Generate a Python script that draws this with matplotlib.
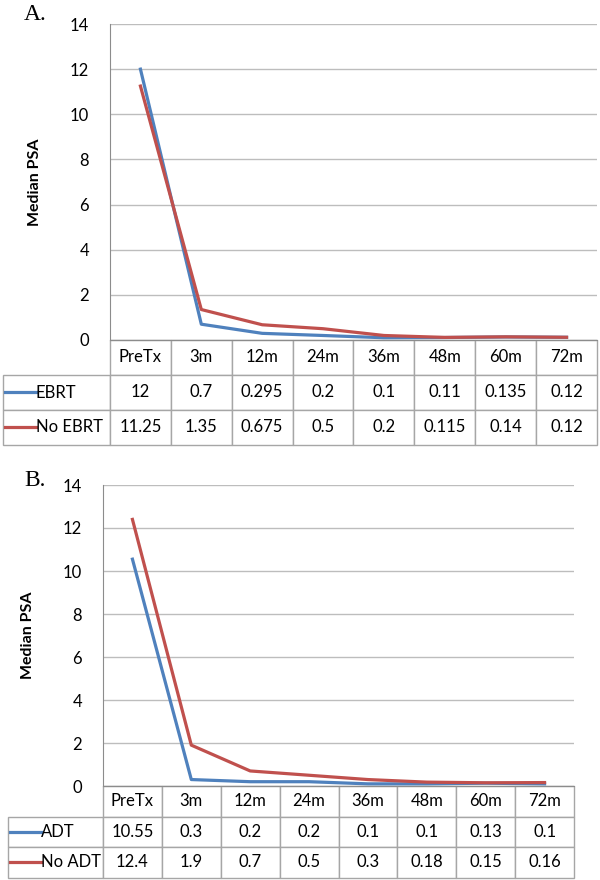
import matplotlib
matplotlib.use('Agg')
import matplotlib.pyplot as plt

plt.rcParams['font.family'] = ['Lato', 'DejaVu Sans']

timepoints = ['PreTx', '3m', '12m', '24m', '36m', '48m', '60m', '72m']

# panel A
ebrt = [12, 0.7, 0.295, 0.2, 0.1, 0.11, 0.135, 0.12]
no_ebrt = [11.25, 1.35, 0.675, 0.5, 0.2, 0.115, 0.14, 0.12]
ebrt_txt = ['12', '0.7', '0.295', '0.2', '0.1', '0.11', '0.135', '0.12']
no_ebrt_txt = ['11.25', '1.35', '0.675', '0.5', '0.2', '0.115', '0.14', '0.12']

# panel B
adt = [10.55, 0.3, 0.2, 0.2, 0.1, 0.1, 0.13, 0.1]
no_adt = [12.4, 1.9, 0.7, 0.5, 0.3, 0.18, 0.15, 0.16]
adt_txt = ['10.55', '0.3', '0.2', '0.2', '0.1', '0.1', '0.13', '0.1']
no_adt_txt = ['12.4', '1.9', '0.7', '0.5', '0.3', '0.18', '0.15', '0.16']

yticks = [0, 2, 4, 6, 8, 10, 12, 14]

BLUE = '#4F81BD'
RED = '#C0504D'
GRID = '#BDBDBD'
EDGE = '#A6A6A6'
FS = 12

W, H = 600, 880
fig = plt.figure(figsize=(6, 8.8), dpi=100)


def panel(px_left, px_right, px_top, px_bottom, tbl_left, row_h, names, series, texts, letter, letter_y):
    ax = fig.add_axes([px_left / W, (H - px_bottom) / H,
                       (px_right - px_left) / W, (px_bottom - px_top) / H])
    wpx = px_right - px_left
    hpx = px_bottom - px_top
    x = list(range(len(timepoints)))
    for vals, c in zip(series, [BLUE, RED]):
        ax.plot(x, vals, color=c, lw=2.3, solid_joinstyle='round')
    ax.set_xlim(-0.5, len(timepoints) - 0.5)
    ax.set_ylim(0, 14)
    ax.set_yticks(yticks)
    ax.set_xticks([])
    ax.yaxis.grid(True, color=GRID, lw=1)
    ax.set_axisbelow(True)
    for s in ['top', 'right']:
        ax.spines[s].set_visible(False)
    ax.spines['left'].set_color('#8C8C8C')
    ax.spines['bottom'].set_color('#8C8C8C')
    ax.tick_params(axis='y', length=0, pad=15, labelsize=FS)
    ax.set_ylabel('Median PSA', fontsize=11.5, fontweight='bold', labelpad=20)

    # data table under the plot
    cells = [[''] + timepoints]
    for t in texts:
        cells.append([''] + t)
    lab_w = px_left - tbl_left
    col_w = wpx / len(timepoints)
    tbl_h = row_h * 3
    tb = ax.table(cellText=cells, cellLoc='center',
                  colWidths=[lab_w] + [col_w] * len(timepoints),
                  bbox=[(tbl_left - px_left) / wpx, -tbl_h / hpx,
                        (px_right - tbl_left) / wpx, tbl_h / hpx])
    tb.auto_set_font_size(False)
    tb.set_fontsize(FS)
    for (r, c), cell in tb.get_celld().items():
        cell.set_edgecolor(EDGE)
        cell.set_linewidth(1)
    tb[0, 0].visible_edges = ''
    for i, (nm, c) in enumerate(zip(names, [BLUE, RED])):
        yc = -(row_h * (i + 1.5)) / hpx
        x0 = (tbl_left + 2 - px_left) / wpx
        x1 = (tbl_left + 33 - px_left) / wpx
        ax.plot([x0, x1], [yc, yc], color=c, lw=2.3, transform=ax.transAxes, clip_on=False)
        ax.text(x1, yc, nm, transform=ax.transAxes, fontsize=FS, va='center', ha='left')

    fig.text(24 / W, 1 - letter_y / H, letter, fontsize=17,
             family='Liberation Serif', va='center', ha='left')
    return ax


panel(110, 597, 24, 340, 3, 35, ['EBRT', 'No EBRT'], [ebrt, no_ebrt],
      [ebrt_txt, no_ebrt_txt], 'A.', 14)
panel(103, 574, 485, 786, 8, 30.5, ['ADT', 'No ADT'], [adt, no_adt],
      [adt_txt, no_adt_txt], 'B.', 480)

fig.savefig('out.png', dpi=100)
